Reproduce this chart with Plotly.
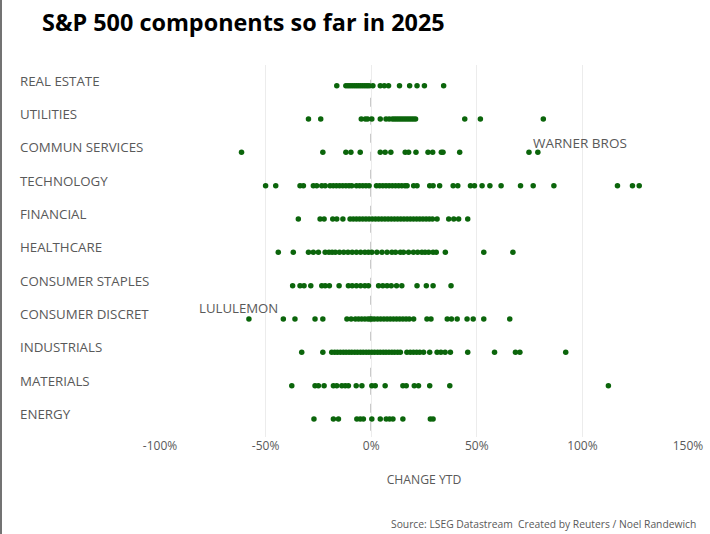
import plotly.graph_objects as go

sectors = ["REAL ESTATE", "UTILITIES", "COMMUN SERVICES", "TECHNOLOGY", "FINANCIAL",
           "HEALTHCARE", "CONSUMER STAPLES", "CONSUMER DISCRET", "INDUSTRIALS",
           "MATERIALS", "ENERGY"]

real_estate = [-16.3, -12, -11, -10, -9, -8, -7, -6, -5, -4, -3, -2, -1, 0.8, 4.3, 6.2, 8.2,
               13.4, 18.2, 21.7, 25.2, 34.3]
utilities = [-29.7, -23.9, -4.7, -2.8, -1.7, 0.3, 4.3, 7, 8.5, 10, 11, 12, 13, 14, 15, 16, 17,
             18, 19, 20, 21, 44.3, 51.7, 81.5]
commun_services = [-61.4, -22.9, -12, -9.6, -5.2, 4.3, 6.6, 9.3, 16.1, 17.7, 21.2, 26.9, 29.1,
                   33.2, 34, 41.9, 74.7, 78.9]
technology = [-50, -45.2, -33.7, -32.1, -27.4, -25.8, -23.4, -21.8, -19.5, -18, -16.5, -15,
              -13.5, -12, -10.5, -9.2, -7, -5.5, -4, -2.5, -1, 2.5, 4, 5.5, 7, 8.5, 10, 11.5,
              13, 14.5, 16, 17, 20.1, 21.7, 27.7, 29.3, 32.4, 38.8, 41, 47, 48.9, 52.5, 56.2,
              61.5, 70.7, 76.7, 86.5, 116.6, 123.7, 126.9]
financial = [-34.5, -24.2, -22.3, -18.2, -16.3, -13.4, -10, -8.5, -7, -5.5, -4, -2.5, -1, 0.5,
             2, 3.5, 5, 6.5, 8, 9.5, 11, 12.5, 14, 15.5, 17, 18.5, 20, 21.5, 23, 24.5, 26, 27.5,
             29, 31.2, 36.7, 39.1, 41.4, 45.7]
healthcare = [-44, -36.9, -29.7, -27.4, -25, -21.8, -20, -18.5, -17, -15, -13, -11, -9, -7,
              -5, -3, -1.3, 0.3, 2.7, 5.1, 7.5, 9.8, 11.5, 13.8, 15.3, 17.7, 20, 22, 24, 25.5,
              27.2, 29.3, 30.8, 35.1, 53.3, 67.1]
consumer_staples = [-37.2, -33.7, -31.8, -28.6, -23.4, -21.8, -19.8, -15.2, -10.8, -9, -7, -5,
                    -3, -1.3, 3.5, 5.5, 7.5, 9.5, 12, 14.5, 21.7, 26.1, 29.3, 37.8]
consumer_discret = [-57.9, -41.6, -36.1, -26.6, -22.9, -11.5, -9.5, -7.5, -6, -4.5, -3, -1.5,
                    -0.5, 0.3, 1.5, 3, 4.5, 6, 7.5, 9, 10.5, 12, 13.5, 15, 16.5, 18, 20.1, 26.4,
                    28.3, 36, 38, 40.7, 45.4, 48.3, 53.3, 65.6]
industrials = [-32.9, -22.9, -18.7, -17.3, -16, -14.6, -13.2, -11.9, -10.5, -9.2, -7.8, -6.5,
               -5.1, -3.8, -2.4, -1.1, 0.3, 1.6, 3, 4.3, 5.7, 7, 8.4, 9.8, 11.1, 12.5, 13.8,
               16.9, 18.5, 20, 21.5, 23, 24.8, 27.7, 31.2, 33, 35, 37.5, 45.7, 58.4, 68.3,
               70.4, 92.1]
materials = [-37.6, -26.6, -25, -22.3, -17.9, -16.3, -13.9, -12.3, -10.8, -7.1, -4.4, 0.3, 1.9,
             6.6, 15, 16.6, 20.4, 22.4, 27.7, 37.2, 112.3]
energy = [-27.1, -17.9, -15.5, -6.8, -5.2, -3.7, 0.3, 4.3, 7.1, 8.7, 10.3, 15, 28, 29.3]

series = [real_estate, utilities, commun_services, technology, financial, healthcare,
          consumer_staples, consumer_discret, industrials, materials, energy]

x_ticks = [-100, -50, 0, 50, 100, 150]
x_tick_labels = ["-100%", "-50%", "0%", "50%", "100%", "150%"]

n = len(sectors)
xs, ys = [], []
for i, vals in enumerate(series):
    pos = n - 1 - i
    xs += vals
    ys += [pos] * len(vals)

grey = "#595959"
fig = go.Figure()
fig.add_trace(go.Scatter(x=xs, y=ys, mode="markers",
                         marker=dict(color="#0b650b", size=5.5),
                         hoverinfo="x", showlegend=False))

# zero dashed line
fig.add_shape(type="line", x0=0, x1=0, y0=-0.35, y1=10.45, xref="x", yref="y",
              line=dict(color="#8c8c8c", width=1.3, dash="dash"), layer="below")

L, R, T, B = 160, 22, 65, 97
plot_w = 710 - L - R

for i, s in enumerate(sectors):
    fig.add_annotation(text=s, x=(18 - L) / plot_w, xref="paper", y=n - 1 - i, yref="y",
                       xanchor="left", yanchor="middle", yshift=5, showarrow=False,
                       font=dict(size=13.3, color=grey, family="Open Sans"))

fig.add_annotation(text="WARNER BROS", x=75.8, y=8, xref="x", yref="y", xanchor="left",
                   yanchor="middle", yshift=9, showarrow=False,
                   font=dict(size=13.5, color=grey, family="Open Sans"))
fig.add_annotation(text="LULULEMON", x=-82.4, y=3, xref="x", yref="y", xanchor="left",
                   yanchor="middle", yshift=11, showarrow=False,
                   font=dict(size=13.2, color=grey, family="Open Sans"))

fig.add_annotation(text="<b>S&P 500 components so far in 2025</b>", x=(40 - L) / plot_w,
                   xref="paper", y=1, yref="paper", yshift=T - 22, xanchor="left",
                   yanchor="middle", showarrow=False,
                   font=dict(size=23.4, color="#000000", family="Open Sans"))
fig.add_annotation(text="Source: LSEG Datastream  Created by Reuters / Noel Randewich",
                   x=(698 - L) / plot_w, xref="paper", y=0, yref="paper",
                   yshift=-(524 - (534 - B)), xanchor="right", yanchor="middle",
                   showarrow=False, font=dict(size=10.3, color=grey, family="Open Sans"))

fig.add_shape(type="line", x0=(1 - L) / plot_w, x1=(1 - L) / plot_w, y0=-1, y1=2,
              xref="paper", yref="paper", line=dict(color="#444444", width=1.5))

fig.update_layout(
    width=710, height=534, margin=dict(l=L, r=R, t=T, b=B, autoexpand=False),
    paper_bgcolor="white", plot_bgcolor="white",
    font=dict(family="Open Sans", color=grey),
    xaxis=dict(range=[-100, 150], tickvals=x_ticks, ticktext=x_tick_labels,
               showgrid=True, gridcolor="#ececec", gridwidth=1, zeroline=False,
               showline=False, ticks="", tickfont=dict(size=12, color=grey),
               automargin=False,
               title=dict(text="CHANGE YTD", font=dict(size=12.2, color=grey), standoff=22)),
    yaxis=dict(range=[-0.54, 10.62], showticklabels=False, showgrid=False, zeroline=False,
               showline=False, ticks="", automargin=False),
)

fig.write_html("out.html", config={"displayModeBar": False},
               post_script="document.body.style.margin='0';"
               "document.body.style.overflow='hidden';")
